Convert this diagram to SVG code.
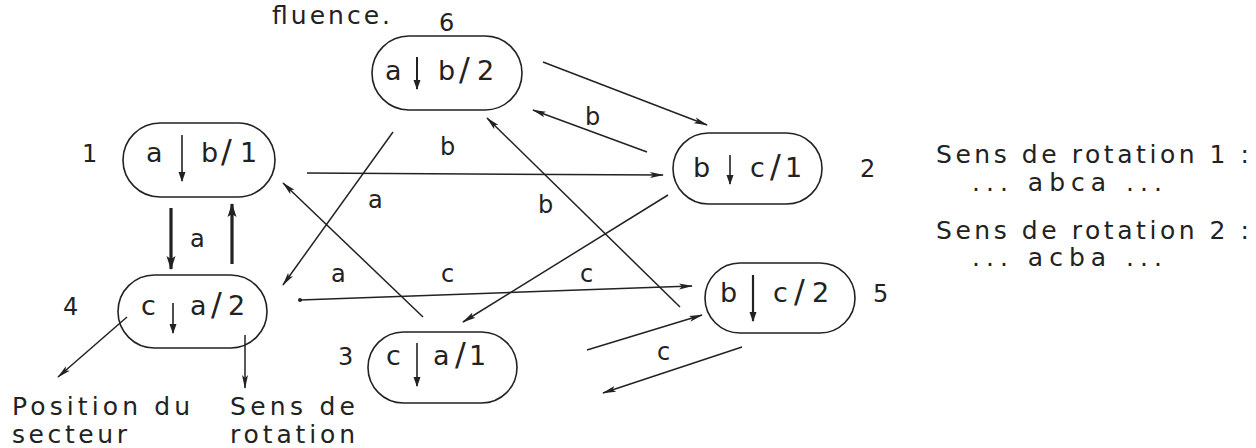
<svg xmlns="http://www.w3.org/2000/svg" width="1256" height="448" viewBox="0 0 1256 448">
<style>
.bg{fill:#ffffff}
.pill{fill:none;stroke:#222;stroke-width:1.6}
.t{font-family:"DejaVu Sans",sans-serif;font-size:27px;fill:#222}
.sl{font-size:32px}
.lb{font-family:"DejaVu Sans",sans-serif;font-size:24px;fill:#222}
.big{font-family:"DejaVu Sans",sans-serif;font-size:25px;fill:#222}
.rt{font-family:"DejaVu Sans",sans-serif;font-size:25px;fill:#222}
.e{fill:none;stroke:#222;stroke-width:1.5;marker-end:url(#ah)}
.thick{fill:none;stroke:#222;stroke-width:3.2;marker-end:url(#ahb)}
.sym{fill:none;stroke:#222;stroke-width:1.6;marker-end:url(#ahs)}
</style>
<defs>
<marker id="ah" viewBox="0 0 14 8" refX="13" refY="4" markerWidth="14" markerHeight="8" markerUnits="userSpaceOnUse" orient="auto">
<path d="M0,1 L14,4 L0,7 L3,4 Z" fill="#222"/>
</marker>
<marker id="ahb" viewBox="0 0 14 10" refX="13" refY="5" markerWidth="14" markerHeight="10" markerUnits="userSpaceOnUse" orient="auto">
<path d="M0,0.5 L14,5 L0,9.5 L3,5 Z" fill="#222"/>
</marker>
<marker id="ahs" viewBox="0 0 10 8" refX="9" refY="4" markerWidth="10" markerHeight="8" markerUnits="userSpaceOnUse" orient="auto">
<path d="M0,0.5 L10,4 L0,7.5 Z" fill="#222"/>
</marker>
</defs>
<rect class="bg" x="0" y="0" width="1256" height="448"/>

<text class="big" x="272" y="24" textLength="118" lengthAdjust="spacing">fluence.</text>

<g id="connectors">
<line class="e" x1="543" y1="62" x2="707" y2="125"/>
<line class="e" x1="647" y1="152" x2="533" y2="110"/>
<line class="e" x1="307" y1="173" x2="663" y2="175"/>
<line class="e" x1="680" y1="307" x2="487" y2="118"/>
<line class="e" x1="393" y1="132" x2="283" y2="285"/>
<line class="e" x1="423" y1="317" x2="283" y2="183"/>
<line class="e" x1="668" y1="195" x2="463" y2="322"/>
<circle cx="300" cy="300" r="2" fill="#222"/>
<line class="e" x1="300" y1="300" x2="692" y2="286"/>
<line class="e" x1="587" y1="350" x2="702" y2="315"/>
<line class="e" x1="742" y1="347" x2="603" y2="393"/>
<line class="thick" x1="171" y1="208" x2="171" y2="269"/>
<line class="thick" x1="232" y1="264" x2="232" y2="204"/>
<line class="e" x1="127" y1="317" x2="58" y2="377"/>
<line class="e" x1="245" y1="335" x2="245" y2="388"/>
<text class="lb" x="585" y="125">b</text>
<text class="lb" x="440" y="155">b</text>
<text class="lb" x="368" y="208">a</text>
<text class="lb" x="538" y="213">b</text>
<text class="lb" x="190" y="247">a</text>
<text class="lb" x="331" y="282">a</text>
<text class="lb" x="441" y="282">c</text>
<text class="lb" x="580" y="282">c</text>
<text class="lb" x="657" y="360">c</text>
</g>

<g id="node6">
<rect class="pill" x="372" y="36" width="150" height="74" rx="37"/>
<text class="t" y="80"><tspan x="385">a</tspan> <tspan x="438">b</tspan><tspan class="sl" x="459">/</tspan><tspan x="477">2</tspan></text>
<line class="sym" x1="417" y1="57" x2="417" y2="89" style="stroke-width:2"/>
<text class="lb" x="439" y="31">6</text>
</g>

<g id="node1">
<rect class="pill" x="123" y="123" width="152" height="74" rx="37"/>
<text class="t" y="162"><tspan x="146">a</tspan> <tspan x="201">b</tspan><tspan class="sl" x="221">/</tspan><tspan x="240">1</tspan></text>
<line class="sym" x1="182" y1="135" x2="182" y2="181"/>
<text class="lb" x="82" y="162">1</text>
</g>

<g id="node2">
<rect class="pill" x="673" y="133" width="149" height="71" rx="35.5"/>
<text class="t" y="177"><tspan x="693">b</tspan> <tspan x="750">c</tspan><tspan class="sl" x="770">/</tspan><tspan x="785">1</tspan></text>
<line class="sym" x1="730" y1="155" x2="730" y2="184"/>
<text class="lb" x="860" y="177">2</text>
</g>

<g id="node5">
<rect class="pill" x="705" y="263" width="150" height="70" rx="35"/>
<text class="t" y="302"><tspan x="720">b</tspan> <tspan x="773">c</tspan><tspan class="sl" x="794">/</tspan><tspan x="812">2</tspan></text>
<line class="sym" x1="753" y1="275" x2="753" y2="321" style="stroke-width:2.2"/>
<text class="lb" x="873" y="302">5</text>
</g>

<g id="node4">
<rect class="pill" x="118" y="275" width="149" height="73" rx="36.5"/>
<text class="t" y="315"><tspan x="141">c</tspan> <tspan x="190">a</tspan><tspan class="sl" x="211">/</tspan><tspan x="228">2</tspan></text>
<line class="sym" x1="173" y1="303" x2="173" y2="333"/>
<text class="lb" x="63" y="315">4</text>
</g>

<g id="node3">
<rect class="pill" x="368" y="332" width="149" height="71" rx="35.5"/>
<text class="t" y="365"><tspan x="386">c</tspan> <tspan x="433">a</tspan><tspan class="sl" x="455">/</tspan><tspan x="469">1</tspan></text>
<line class="sym" x1="417" y1="343" x2="417" y2="386"/>
<text class="lb" x="338" y="365">3</text>
</g>

<g id="legend">
<text class="big" x="12" y="415" textLength="178" lengthAdjust="spacing">Position du</text>
<text class="big" x="12" y="443" textLength="115" lengthAdjust="spacing">secteur</text>
<text class="big" x="230" y="415" textLength="125" lengthAdjust="spacing">Sens de</text>
<text class="big" x="230" y="443" textLength="125" lengthAdjust="spacing">rotation</text>
<text class="rt" x="936" y="163" textLength="313" lengthAdjust="spacing">Sens de rotation 1 :</text>
<text class="rt" x="972" y="191" textLength="190" lengthAdjust="spacing">... abca ...</text>
<text class="rt" x="936" y="239" textLength="313" lengthAdjust="spacing">Sens de rotation 2 :</text>
<text class="rt" x="972" y="266" textLength="190" lengthAdjust="spacing">... acba ...</text>
</g>
</svg>
